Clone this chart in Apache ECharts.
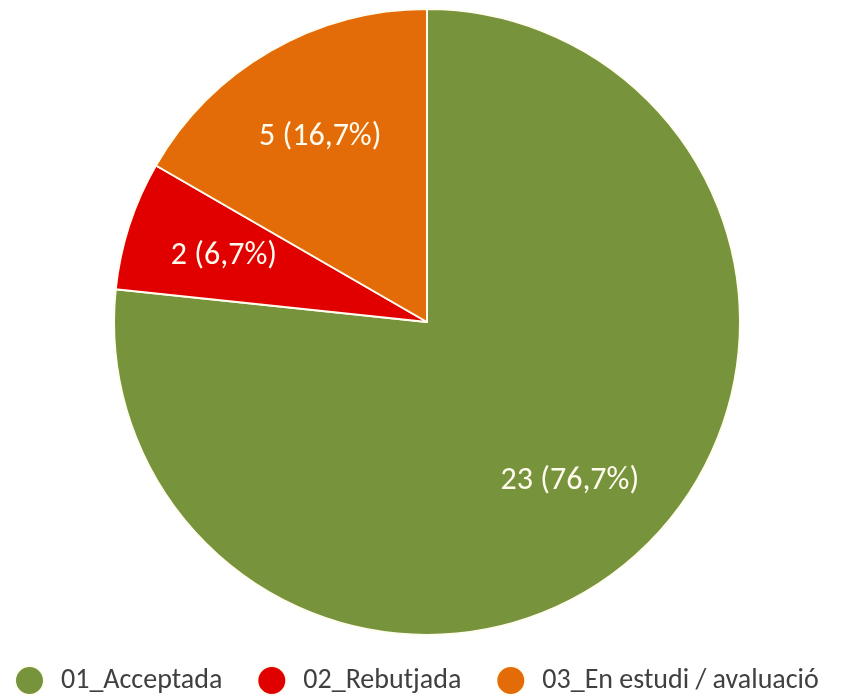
<!DOCTYPE html>
<html>
<head>
<meta charset="utf-8">
<script src="https://cdn.jsdelivr.net/npm/echarts@6/dist/echarts.min.js"></script>
<style>
  html, body { margin: 0; padding: 0; background: #fff; }
  #chart { width: 848px; height: 696px; }
</style>
</head>
<body>
<div id="chart"></div>
<script>
// data
var categories = ['01_Acceptada', '02_Rebutjada', '03_En estudi / avaluació'];
var counts = [23, 2, 5];
var colors = ['#77933C', '#E00000', '#E36C09'];

var total = counts.reduce(function (a, b) { return a + b; }, 0);
var pieData = categories.map(function (name, i) {
    return { name: name, value: counts[i], itemStyle: { color: colors[i] } };
});

var font = 'Carlito, Lato, "Open Sans", sans-serif';

var option = {
    animation: false,
    legend: {
        data: categories,
        bottom: 0,
        left: 14,
        width: 834,
        padding: 0,
        icon: 'circle',
        itemWidth: 29,
        itemHeight: 29,
        itemGap: 34,
        textStyle: {
            fontFamily: font,
            fontSize: 28,
            color: '#404040',
            padding: [0, 0, 0, 12]
        }
    },
    series: [
        {
            // slices
            type: 'pie',
            center: [427, 322],
            radius: [0, 313],
            startAngle: 90,
            clockwise: true,
            data: pieData,
            itemStyle: { borderColor: '#fffdf0', borderWidth: 2 },
            label: { show: false },
            labelLine: { show: false },
            emphasis: { disabled: true }
        },
        {
            // labels only, pushed out to about two thirds of the radius
            type: 'pie',
            center: [427, 322],
            radius: [108, 313],
            startAngle: 90,
            clockwise: true,
            silent: true,
            data: pieData.map(function (d) {
                return { name: d.name, value: d.value, itemStyle: { color: 'rgba(0,0,0,0)' } };
            }),
            label: {
                show: true,
                position: 'inside',
                fontFamily: font,
                fontSize: 32,
                color: '#fffbee',
                formatter: function (p) {
                    return p.value + ' (' + (p.value / total * 100).toFixed(1).replace('.', ',') + '%)';
                }
            },
            labelLine: { show: false },
            emphasis: { disabled: true }
        }
    ]
};

var chart = echarts.init(document.getElementById('chart'));
chart.setOption(option);
</script>
</body>
</html>
